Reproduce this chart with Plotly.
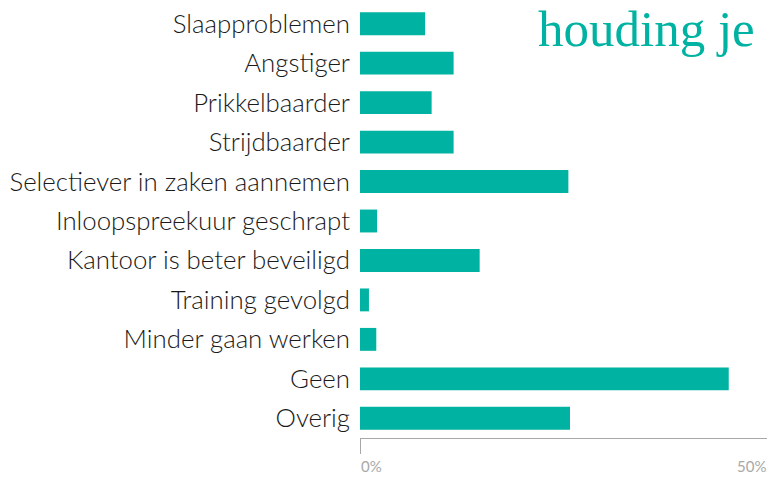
import plotly.graph_objects as go

categories = [
    "Slaapproblemen", "Angstiger", "Prikkelbaarder", "Strijdbaarder",
    "Selectiever in zaken aannemen", "Inloopspreekuur geschrapt",
    "Kantoor is beter beveiligd", "Training gevolgd", "Minder gaan werken",
    "Geen", "Overig",
]
values = [8.0, 11.5, 8.8, 11.5, 25.6, 2.1, 14.7, 1.1, 2.0, 45.3, 25.8]
tick_values = [0, 50]
tick_labels = ["0%", "50%"]
title_text = "houding je"

TEAL = "#00b2a1"
GREY = "#a8a8a8"

W, H = 767, 477
ML, MR, MT, MB = 360, 0, 4, 39
PW, PH = W - ML - MR, H - MT - MB

fig = go.Figure(go.Bar(
    x=values, y=categories, orientation="h",
    marker=dict(color=TEAL, line=dict(width=0)),
    width=0.58, hoverinfo="x+y",
))

fig.update_layout(
    width=W, height=H,
    margin=dict(l=ML, r=MR, t=MT, b=MB),
    paper_bgcolor="white", plot_bgcolor="white",
    showlegend=False,
    xaxis=dict(
        range=[0, 50], showgrid=False, zeroline=False,
        showline=True, linecolor=GREY, linewidth=1.3,
        tickvals=[tick_values[0]], ticktext=[""], ticks="outside",
        ticklen=15, tickcolor=GREY, tickwidth=1.3,
        fixedrange=True,
    ),
    yaxis=dict(
        autorange="reversed", showgrid=False, zeroline=False,
        showline=False, ticks="", ticklabelstandoff=9,
        tickfont=dict(family="Lato", size=25.8, color="#1a1a1a", weight=300),
        fixedrange=True,
    ),
    annotations=[
        dict(x=tick_values[0], y=(438 - 476) / PH, xref="x", yref="paper",
             text=tick_labels[0], showarrow=False, xanchor="left", yanchor="bottom",
             borderpad=0, font=dict(family="Lato", size=15, color=GREY)),
        dict(x=tick_values[1], y=(438 - 476) / PH, xref="x", yref="paper",
             text=tick_labels[1], showarrow=False, xanchor="right", yanchor="bottom",
             borderpad=0, font=dict(family="Lato", size=15, color=GREY)),
        dict(x=(756 - ML) / PW, y=1 + MT / PH, xref="paper", yref="paper",
             text=title_text, showarrow=False, xanchor="right", yanchor="top",
             borderpad=0, font=dict(family="Liberation Serif", size=51, color=TEAL)),
    ],
)

fig.write_html(
    "out.html",
    config={"displayModeBar": False},
    post_script="document.body.style.margin='0';document.body.style.overflow='hidden';",
)
